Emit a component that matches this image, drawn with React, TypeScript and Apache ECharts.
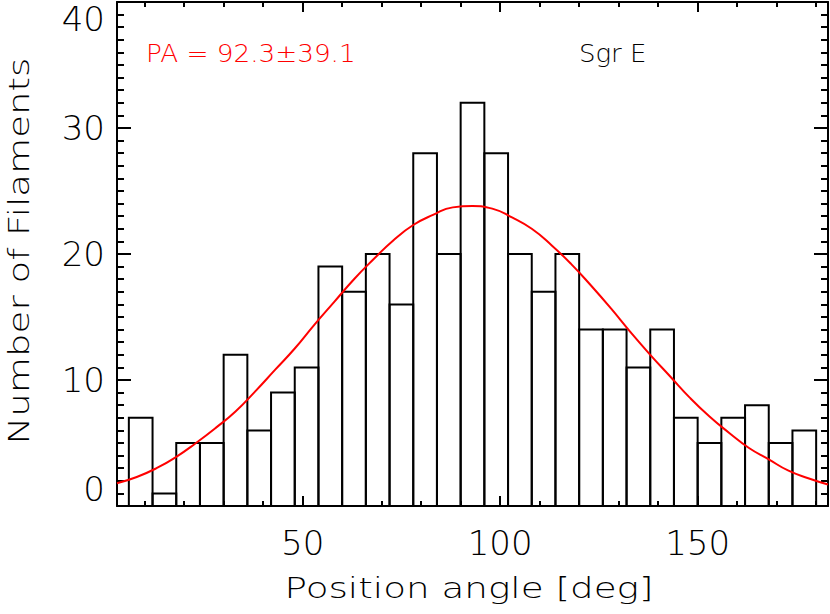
import React, { useEffect, useRef } from "react";
import * as echarts from "echarts";

// Histogram bins (left edge, degrees) and counts
const binStarts = [6, 12, 18, 24, 30, 36, 42, 48, 54, 60, 66, 72, 78, 84, 90, 96, 102, 108, 114, 120, 126, 132, 138, 144, 150, 156, 162, 168, 174];
const counts = [7, 1, 5, 5, 12, 6, 9, 11, 19, 17, 20, 16, 28, 20, 32, 28, 20, 17, 20, 14, 14, 11, 14, 7, 5, 7, 8, 5, 6];
const BIN_WIDTH = 6;

// Fitted curve
const fitX = [3, 8, 13, 18, 23, 28, 33, 38, 43, 48, 53, 58, 63, 68, 73, 78, 83, 88, 93, 98, 103, 108, 113, 118, 123, 128, 133, 138, 143, 148, 153, 158, 163, 168, 173, 178, 183];
const fitY = [1.8, 2.3, 3.0, 3.9, 5.0, 6.2, 7.5, 9.1, 10.8, 12.5, 14.4, 16.2, 18.0, 19.6, 21.1, 22.3, 23.1, 23.7, 23.8, 23.6, 22.9, 22.0, 20.7, 19.2, 17.5, 15.7, 13.8, 12.0, 10.3, 8.6, 7.1, 5.8, 4.6, 3.7, 2.8, 2.2, 1.7];

// Axis ticks
const xMajorTicks = [50, 100, 150];
const xMinorTicks = [10, 20, 30, 40, 60, 70, 80, 90, 110, 120, 130, 140, 160, 170, 180];

const FONT = "DejaVu Sans";
const WEIGHT = 200;

export default function App() {
  const ref = useRef<HTMLDivElement>(null);
  useEffect(() => {
    if (!ref.current) return;
    const chart = echarts.init(ref.current, null, { renderer: "svg" });
    const axisLine = { show: true, lineStyle: { color: "#000", width: 2 } };
    const xBase = { type: "value", min: 3, max: 183, splitLine: { show: false }, gridIndex: 0 };
    const majorX = (pos: string, labels: boolean) => ({
      ...xBase,
      position: pos,
      axisLine,
      axisTick: { show: true, inside: true, length: 10, customValues: xMajorTicks, lineStyle: { color: "#000", width: 2 } },
      axisLabel: labels
        ? { show: true, customValues: xMajorTicks, fontSize: 34, fontFamily: FONT, fontWeight: WEIGHT, color: "#000", margin: 20 }
        : { show: false },
    });
    const minorX = (pos: string) => ({
      ...xBase,
      position: pos,
      axisLine: { show: false },
      axisTick: { show: true, inside: true, length: 5, customValues: xMinorTicks, lineStyle: { color: "#000", width: 2 } },
      axisLabel: { show: false },
    });
    const yAxis = (pos: string, labels: boolean) => ({
      type: "value",
      min: 0,
      max: 40,
      interval: 10,
      position: pos,
      splitLine: { show: false },
      axisLine,
      axisTick: { show: true, inside: true, length: 14, lineStyle: { color: "#000", width: 2 } },
      minorTick: { show: true, splitNumber: 10, length: 7, lineStyle: { color: "#000", width: 2 } },
      minorSplitLine: { show: false },
      axisLabel: labels
        ? {
            show: true,
            fontSize: 34,
            fontFamily: FONT,
            fontWeight: WEIGHT,
            color: "#000",
            margin: 12,
            verticalAlignMinLabel: "bottom",
            verticalAlignMaxLabel: "top",
          }
        : { show: false },
    });

    const barData = binStarts.map((s, i) => [s, s + BIN_WIDTH, counts[i]]);
    const lineData = fitX.map((x, i) => [x, fitY[i]]);

    chart.setOption({
      animation: false,
      backgroundColor: "#fff",
      grid: { left: 117, right: 2, top: 2, bottom: 108, containLabel: false },
      xAxis: [majorX("bottom", true), minorX("bottom"), majorX("top", false), minorX("top")],
      yAxis: [yAxis("left", true), yAxis("right", false)],
      series: [
        {
          type: "custom",
          xAxisIndex: 0,
          yAxisIndex: 0,
          data: barData,
          encode: { x: [0, 1], y: 2 },
          renderItem: (params: any, api: any) => {
            const x0 = api.value(0);
            const x1 = api.value(1);
            const c = api.value(2);
            const p0 = api.coord([x0, c]);
            const p1 = api.coord([x1, 0]);
            return {
              type: "rect",
              shape: { x: p0[0], y: p0[1], width: p1[0] - p0[0], height: p1[1] - p0[1] },
              style: { fill: "none", stroke: "#000", lineWidth: 2 },
            };
          },
        },
        {
          type: "line",
          xAxisIndex: 0,
          yAxisIndex: 0,
          data: lineData,
          smooth: true,
          showSymbol: false,
          lineStyle: { color: "#ff0000", width: 2 },
          itemStyle: { color: "#ff0000" },
        },
      ],
      graphic: [
        {
          type: "text",
          x: 146,
          y: 53,
          scaleX: 1.05,
          style: { text: "PA = 92.3±39.1", font: `${WEIGHT} 25px "${FONT}"`, fill: "#ff0000", textAlign: "left", textVerticalAlign: "middle" },
        },
        {
          type: "text",
          x: 579,
          y: 53,
          scaleX: 1.04,
          style: { text: "Sgr E", font: `${WEIGHT} 25px "${FONT}"`, fill: "#000", textAlign: "left", textVerticalAlign: "middle" },
        },
        {
          type: "text",
          x: 469,
          y: 588,
          scaleX: 1.286,
          style: { text: "Position angle [deg]", font: `${WEIGHT} 29px "${FONT}"`, fill: "#000", textAlign: "center", textVerticalAlign: "middle" },
        },
        {
          type: "text",
          x: 19,
          y: 251,
          rotation: Math.PI / 2,
          scaleX: 1.28,
          style: { text: "Number of Filaments", font: `${WEIGHT} 29px "${FONT}"`, fill: "#000", textAlign: "center", textVerticalAlign: "middle" },
        },
      ],
    });
    return () => chart.dispose();
  }, []);
  return <div ref={ref} style={{ position: "fixed", left: 0, top: 0, width: 830, height: 614, background: "#fff" }} />;
}
